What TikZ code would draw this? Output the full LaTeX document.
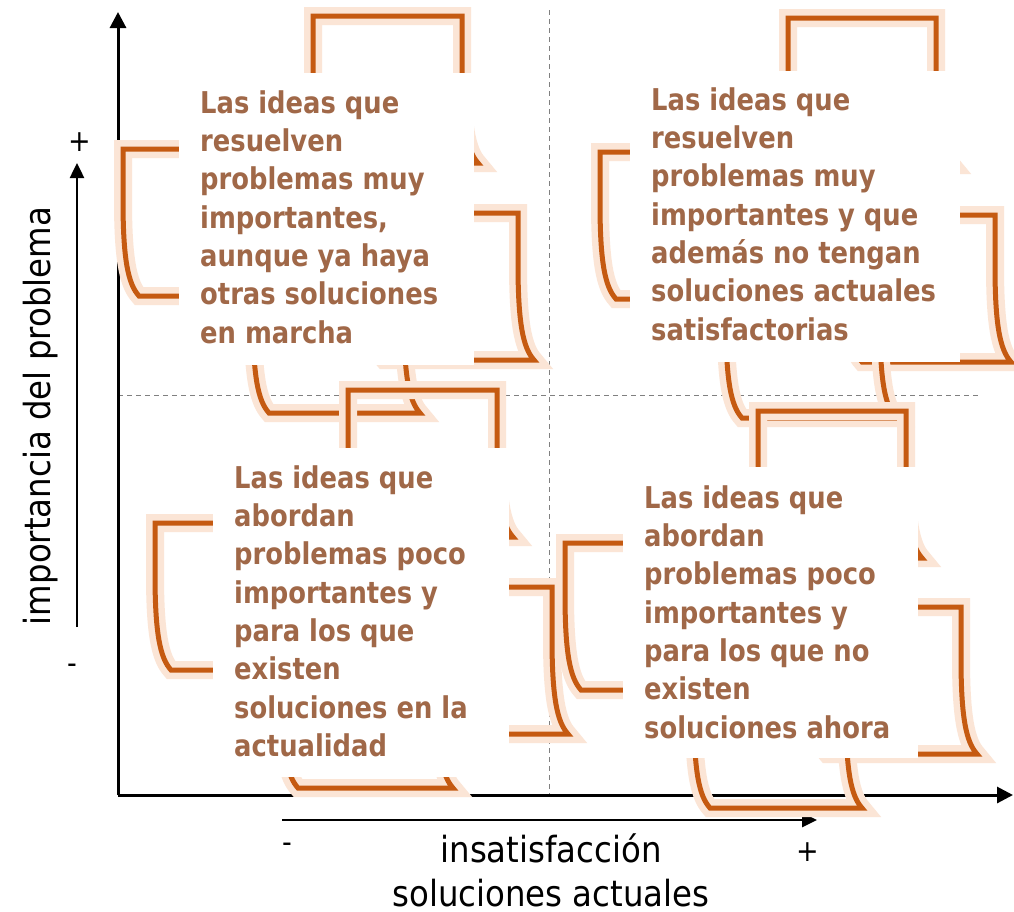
\documentclass[tikz,border=0pt]{standalone}
\usepackage{fontspec}
\setmainfont{DejaVu Sans}
\newfontfamily\labfont{DejaVu Sans}[FakeStretch=0.9]
\newfontfamily\boxfont{DejaVu Sans}[FakeStretch=0.86]
\usetikzlibrary{arrows.meta}
\definecolor{frameorange}{RGB}{197,90,17}
\definecolor{framehalo}{RGB}{251,229,214}
\definecolor{textbrown}{RGB}{160,104,72}
\definecolor{dashgray}{RGB}{128,128,128}
\tikzset{
  halo/.style={draw=framehalo, line width=18pt},
  edge/.style={draw=frameorange, line width=5pt},
  whitebox/.style={fill=white, draw=none},
  boxtext/.style={anchor=north west, inner sep=0pt, align=left, text=textbrown,
    font=\boxfont\bfseries\fontsize{30}{38.3}\selectfont},
  axis/.style={draw=black, line width=3pt, -{Triangle[length=16pt,width=16pt]}},
  smallaxis/.style={draw=black, line width=2.5pt, -{Triangle[length=15pt,width=14pt]}},
  quad/.style={draw=dashgray, line width=1pt, dash pattern=on 5pt off 4pt},
  sign/.style={font=\labfont\fontsize{30}{34}\selectfont, inner sep=0pt},
  axislabel/.style={font=\labfont\fontsize{36}{44}\selectfont, inner sep=0pt}
}
% one bent frame piece: #1 = left x, #2 = top y, #3 = width (pixels, y downwards)
\newcommand{\flagshape}[3]{%
  \pgfmathsetmacro{\fR}{#1+#3}%
  \pgfmathsetmacro{\fA}{#2+51}%
  \pgfmathsetmacro{\fB}{#2+110}%
  \pgfmathsetmacro{\fC}{#2+135}%
  \pgfmathsetmacro{\fD}{#2+147}%
  \draw[halo] (#1,#2) -- (\fR,#2) -- (\fR,\fA) .. controls (\fR,\fB) and (\fR+5,\fC) .. (\fR+16,\fD) -- (#1+16,\fD) .. controls (#1+5,\fC) and (#1,\fB) .. (#1,\fA) -- cycle;
  \draw[edge] (#1,#2) -- (\fR,#2) -- (\fR,\fA) .. controls (\fR,\fB) and (\fR+5,\fC) .. (\fR+16,\fD) -- (#1+16,\fD) .. controls (#1+5,\fC) and (#1,\fB) .. (#1,\fA) -- cycle;
}
\begin{document}
\begin{tikzpicture}[x=1pt, y=-1pt]
\useasboundingbox (0,0) rectangle (1014,911);
\fill[white] (0,0) rectangle (1014,911);

% coordinates
\coordinate (O) at (118,795);
\coordinate (ytip) at (118,12);
\coordinate (xtip) at (1013,795);
\coordinate (sy0) at (77,627);
\coordinate (sy1) at (77,163);
\coordinate (sx0) at (282,820);
\coordinate (sx1) at (817,820);
\coordinate (vd0) at (549,10);
\coordinate (vd1) at (549,795);
\coordinate (hd0) at (118,395);
\coordinate (hd1) at (980,395);

% quadrant dashed lines
\draw[quad] (vd0) -- (vd1);
\draw[quad] (hd0) -- (hd1);

% axes
\draw[axis] (O) -- (ytip);
\draw[axis] (O) -- (xtip);
\draw[smallaxis] (sy0) -- (sy1);
\draw[smallaxis] (sx0) -- (sx1);

% labels
\node[sign] (yplus) at (80,142) {+};
\node[sign] (yminus) at (72,669) {-};
\node[sign] (xminus) at (287,848) {-};
\node[sign] (xplus) at (808,852) {+};
\node[axislabel, rotate=90, anchor=base] (ylab) at (50,416) {importancia del problema};
\node[axislabel, align=center, anchor=north, text depth=0pt] (xlab) at (551,833) {insatisfacción\\soluciones actuales};

% Q1
\flagshape{313}{16}{149}
\flagshape{123}{149}{150}
\flagshape{368}{213}{150}
\flagshape{253}{266}{151}
\node[whitebox, anchor=north west, minimum width=295pt, minimum height=292pt, inner sep=0pt] (q1box) at (179,73) {};
\node[boxtext] (q1text) at (200,90.2) {Las ideas que\\resuelven\\problemas muy\\importantes,\\aunque ya haya\\otras soluciones\\en marcha};

% Q2
\flagshape{788}{18}{148}
\flagshape{600}{152}{150}
\flagshape{846}{215}{149}
\flagshape{726}{271}{154}
\node[whitebox, anchor=north west, minimum width=330pt, minimum height=291pt, inner sep=0pt] (q2box) at (630,71) {};
\node[boxtext] (q2text) at (651,87.2) {Las ideas que\\resuelven\\problemas muy\\importantes y que\\además no tengan\\soluciones actuales\\satisfactorias};

% Q3
\flagshape{348}{390}{149}
\flagshape{155}{523}{150}
\flagshape{402}{587}{150}
\flagshape{282}{641}{155}
\node[whitebox, anchor=north west, minimum width=296pt, minimum height=329pt, inner sep=0pt] (q3box) at (213,448) {};
\node[boxtext] (q3text) at (234,465.2) {Las ideas que\\abordan\\problemas poco\\importantes y\\para los que\\existen\\soluciones en la\\actualidad};

% Q4
\flagshape{758}{411}{148}
\flagshape{565}{543}{150}
\flagshape{811}{607}{150}
\flagshape{694}{661}{152}
\node[whitebox, anchor=north west, minimum width=295pt, minimum height=291pt, inner sep=0pt] (q4box) at (623,467) {};
\node[boxtext] (q4text) at (644,485.2) {Las ideas que\\abordan\\problemas poco\\importantes y\\para los que no\\existen\\soluciones ahora};
\end{tikzpicture}
\end{document}
